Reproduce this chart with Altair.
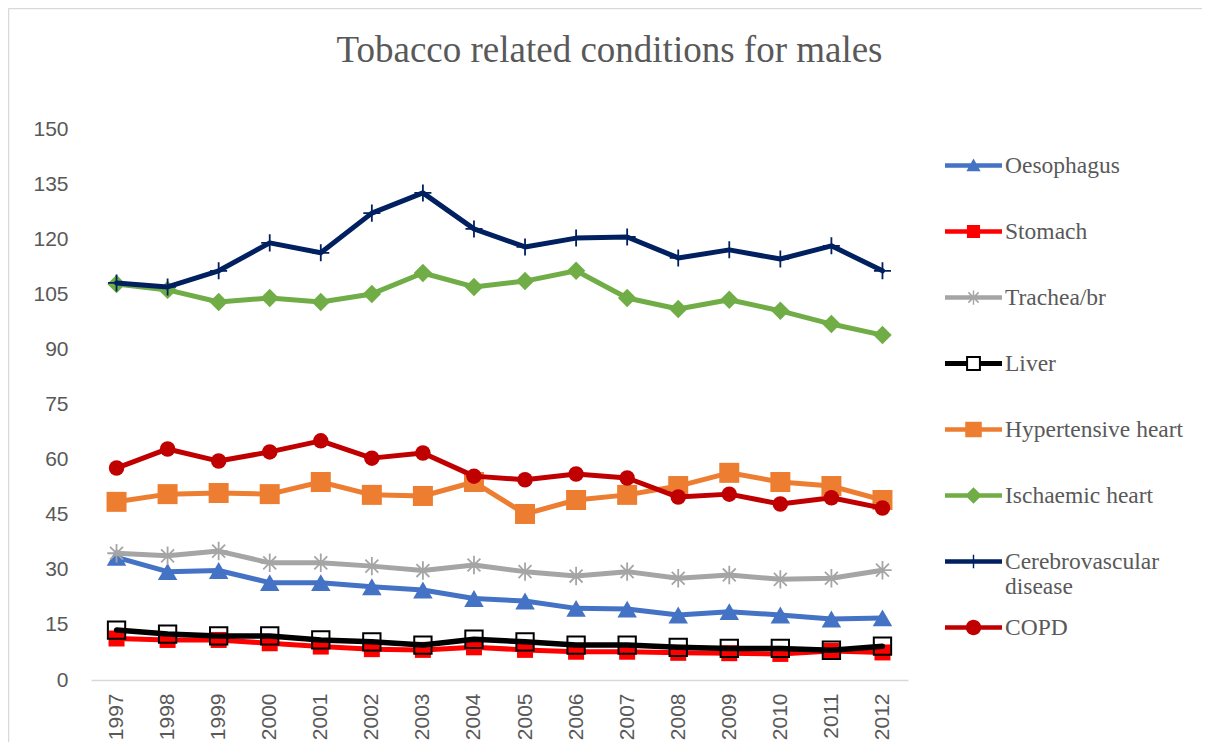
import math
import altair as alt
import pandas as pd

years = ["1997", "1998", "1999", "2000", "2001", "2002", "2003", "2004",
         "2005", "2006", "2007", "2008", "2009", "2010", "2011", "2012"]

oesophagus = [33.4, 29.5, 29.8, 26.5, 26.5, 25.4, 24.5, 22.2, 21.5, 19.5, 19.3, 17.7, 18.6, 17.7, 16.6, 16.9]
stomach = [11.3, 10.9, 10.9, 10.0, 9.1, 8.4, 8.2, 8.9, 8.2, 7.7, 7.7, 7.4, 7.3, 7.1, 7.9, 7.5]
trachea = [34.5, 33.8, 35.1, 31.9, 31.9, 31.0, 29.8, 31.3, 29.5, 28.3, 29.5, 27.7, 28.6, 27.4, 27.7, 29.9]
liver = [13.6, 12.5, 12.0, 12.0, 10.9, 10.4, 9.5, 11.1, 10.4, 9.5, 9.5, 8.9, 8.6, 8.6, 8.1, 9.2]
hypertensive = [48.5, 50.6, 50.9, 50.6, 53.9, 50.4, 50.1, 53.9, 45.2, 49.0, 50.4, 52.8, 56.4, 53.9, 52.8, 49.0]
ischaemic = [107.8, 106.2, 102.9, 104.0, 102.9, 105.1, 110.8, 107.0, 108.6, 111.4, 104.0, 101.0, 103.5, 100.5, 96.9, 93.9]
cerebro = [108.1, 107.0, 111.4, 119.0, 116.3, 127.1, 132.6, 122.8, 117.9, 120.3, 120.6, 114.9, 117.1, 114.6, 118.2, 111.4]
copd = [57.7, 62.9, 59.6, 62.1, 65.1, 60.4, 61.8, 55.5, 54.5, 56.1, 55.0, 49.8, 50.6, 47.9, 49.6, 46.8]

names = ["Oesophagus", "Stomach", "Trachea/br", "Liver", "Hypertensive heart",
         "Ischaemic heart", "Cerebrovascular disease", "COPD"]
values = [oesophagus, stomach, trachea, liver, hypertensive, ischaemic, cerebro, copd]
colors = ["#4472C4", "#FF0000", "#A5A5A5", "#000000", "#ED7D31", "#70AD47", "#002060", "#C00000"]

rows = []
for n, vals in zip(names, values):
    for yr, v in zip(years, vals):
        rows.append({"year": yr, "value": v, "series": n})
df = pd.DataFrame(rows)

# ---------- legend symbol paths (line + marker), unit square -1..1 ----------
def ring(pts, sign=1):
    area = 0.0
    for i in range(len(pts)):
        x1, y1 = pts[i]
        x2, y2 = pts[(i + 1) % len(pts)]
        area += x1 * y2 - x2 * y1
    if area * sign < 0:
        pts = list(reversed(pts))
    return "M" + "L".join(f"{x:.3f},{y:.3f}" for x, y in pts) + "Z"

def rect(x1, y1, x2, y2, sign=1):
    return ring([(x1, y1), (x2, y1), (x2, y2), (x1, y2)], sign)

def seg(x1, y1, x2, y2, w):
    dx, dy = x2 - x1, y2 - y1
    L = math.hypot(dx, dy)
    nx, ny = -dy / L * w, dx / L * w
    return ring([(x1 + nx, y1 + ny), (x2 + nx, y2 + ny), (x2 - nx, y2 - ny), (x1 - nx, y1 - ny)])

LW = 0.075
line = rect(-1, -LW, 1, LW)
p_oes = line + ring([(0, -0.25), (0.25, 0.2), (-0.25, 0.2)])
p_sto = line + rect(-0.23, -0.23, 0.23, 0.23)
d = 0.18
p_tra = line + seg(0, -0.25, 0, 0.25, 0.025) + seg(-d, -d, d, d, 0.025) + seg(-d, d, d, -d, 0.025)
p_liv = (rect(-1, -0.085, -0.22, 0.085) + rect(0.22, -0.085, 1, 0.085)
         + rect(-0.26, -0.26, 0.26, 0.26) + rect(-0.19, -0.19, 0.19, 0.19, sign=-1))
p_hyp = line + rect(-0.29, -0.27, 0.29, 0.27)
p_isc = line + ring([(-0.29, 0), (0, -0.29), (0.29, 0), (0, 0.29)])
p_cer = line + seg(0, -0.24, 0, 0.24, 0.025)
p_cop = line + ring([(0.27 * math.cos(2 * math.pi * k / 32), 0.27 * math.sin(2 * math.pi * k / 32)) for k in range(32)])
legend_paths = [p_oes, p_sto, p_tra, p_liv, p_hyp, p_isc, p_cer, p_cop]

# ---------- chart marker styles ----------
asterisk = "M-1,0L1,0M0,-1L0,1M-0.7,-0.7L0.7,0.7M-0.7,0.7L0.7,-0.7"
plus = "M-1,0L1,0M0,-1L0,1"
marker = {
    "Oesophagus": dict(shape="triangle-up", size=380, filled=True),
    "Stomach": dict(shape="square", size=256, filled=True),
    "Trachea/br": dict(shape=asterisk, size=340, filled=False, strokeWidth=1.8),
    "Liver": dict(shape="square", size=300, filled=False, strokeWidth=2),
    "Hypertensive heart": dict(shape="square", size=400, filled=True),
    "Ischaemic heart": dict(shape="diamond", size=340, filled=True),
    "Cerebrovascular disease": dict(shape=plus, size=290, filled=False, strokeWidth=1.8),
    "COPD": dict(shape="circle", size=240, filled=True),
}

FONT_SANS = "Liberation Sans"
FONT_SERIF = "Liberation Serif"
GREY = "#595959"

base = alt.Chart(df).encode(
    x=alt.X("year:O", scale=alt.Scale(type="point", padding=0.5),
            axis=alt.Axis(title=None, labelAngle=-90, ticks=False, grid=False,
                          domainColor="#D9D9D9", domainWidth=1.5, labelPadding=13,
                          labelFont=FONT_SANS, labelFontSize=21, labelColor=GREY)),
    y=alt.Y("value:Q", scale=alt.Scale(domain=[0, 150], nice=False, zero=True),
            axis=alt.Axis(title=None, values=[0, 15, 30, 45, 60, 75, 90, 105, 120, 135, 150],
                          ticks=False, grid=False, domain=False, labelPadding=23,
                          labelFont=FONT_SANS, labelFontSize=21, labelColor=GREY)),
)

layers = []
# frame (chart area border, left and top)
frame_df = pd.DataFrame({"k": [0]})
layers.append(alt.Chart(frame_df).mark_rule(color="#D9D9D9", strokeWidth=1.5).encode(
    x=alt.value(-82.5), y=alt.value(-120.5), y2=alt.value(900)))
layers.append(alt.Chart(frame_df).mark_rule(color="#D9D9D9", strokeWidth=1.5).encode(
    x=alt.value(-82.5), x2=alt.value(1300), y=alt.value(-120.5)))

for n, c in zip(names, colors):
    sub = base.transform_filter(alt.datum.series == n)
    lw = 5.5 if n == "Liver" else 5
    layers.append(sub.mark_line(color=c, strokeWidth=lw, strokeJoin="round", strokeCap="round"))
    m = marker[n]
    if m["filled"]:
        layers.append(sub.mark_point(shape=m["shape"], size=m["size"], filled=True,
                                     color=c, opacity=1, strokeWidth=0))
    else:
        layers.append(sub.mark_point(shape=m["shape"], size=m["size"], filled=False,
                                     color=c, opacity=1, strokeWidth=m["strokeWidth"]))

leg = alt.Legend(title=None, orient="none", legendX=854, legendY=8,
                 symbolSize=3249, symbolStrokeWidth=0, symbolOpacity=1,
                 labelFont=FONT_SERIF, labelFontSize=23.5, labelColor=GREY,
                 labelOffset=3, rowPadding=-2, gridAlign="all", labelLimit=400, padding=0,
                 labelExpr="datum.label == 'Cerebrovascular disease' ? ['Cerebrovascular', 'disease'] : datum.label")
layers.append(
    base.transform_filter("datum.value < 0").mark_point(filled=True, opacity=1).encode(
        color=alt.Color("series:N", scale=alt.Scale(domain=names, range=colors), legend=leg),
        shape=alt.Shape("series:N", scale=alt.Scale(domain=names, range=legend_paths), legend=leg),
    )
)

chart = alt.layer(*layers).properties(
    width=817, height=551,
    background="white",
    autosize=alt.AutoSizeParams(type="none"),
    padding={"left": 83, "top": 121, "right": 294, "bottom": 62},
    title=alt.Title("Tobacco related conditions for males", font=FONT_SERIF, fontSize=37,
                    fontWeight="normal", color=GREY, anchor="middle", frame="group",
                    baseline="alphabetic", offset=-91, dx=110),
).configure_view(stroke=None)

chart.save("out.html", embed_options={"renderer": "svg", "actions": False})
